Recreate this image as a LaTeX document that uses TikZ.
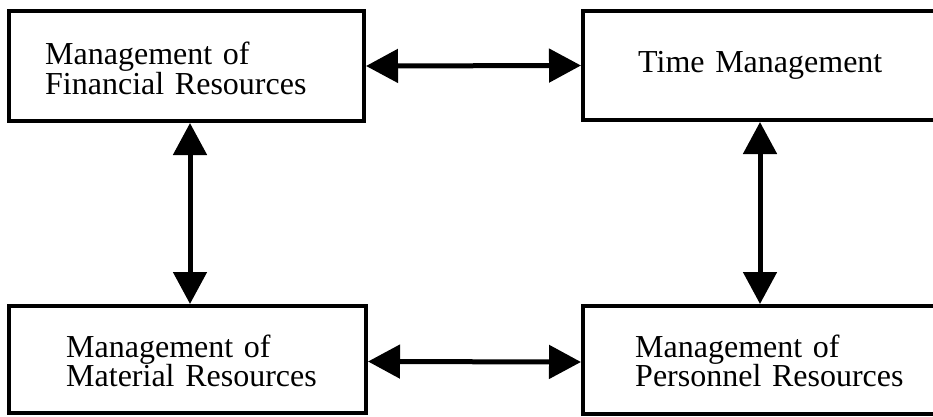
\documentclass[tikz,border=0pt]{standalone}
\usepackage{fontspec}
\setmainfont{Liberation Serif}
\usetikzlibrary{arrows.meta}
\begin{document}
\begin{tikzpicture}[x=1pt,y=-1pt,
  box/.style={draw=black, line width=4pt, fill=white, inner sep=0pt},
  label/.style={anchor=base west, inner sep=0pt, align=left, text width=320pt,
    font=\fontsize{32}{29.5}\selectfont},
  biarrow/.style={line width=5pt, {Triangle[length=32pt,width=33pt]}-{Triangle[length=32pt,width=33pt]}}]
  \useasboundingbox (0,0) rectangle (933,417);
  \clip (0,0) rectangle (933,417);

  % the four resource boxes
  \node[box, minimum width=355pt, minimum height=110pt] (fin)  at (186.5,66)  {};
  \node[box, minimum width=357pt, minimum height=109pt] (time) at (761.5,65.5) {};
  \node[box, minimum width=357pt, minimum height=107pt] (mat)  at (187.5,359.5) {};
  \node[box, minimum width=357pt, minimum height=108pt] (pers) at (761.5,360) {};

  % box texts
  \node[label] (finT)  at (45,65)   {Management of\\Financial Resources};
  \node[label] (timeT) at (638,73)  {Time Management};
  \node[label] (matT)  at (66,357)  {Management of\\Material Resources};
  \node[label] (persT) at (635,357) {Management of\\Personnel Resources};

  % two-way links between the boxes
  \draw[biarrow] (fin.east) -- (time.west);
  \draw[biarrow] ([yshift=-2pt]mat.east) -- ([yshift=-2pt]pers.west);
  \draw[biarrow] ([xshift=3.5pt]fin.south) -- ([xshift=2.5pt]mat.north);
  \draw[biarrow] ([xshift=-1.5pt]time.south) -- ([xshift=-1.5pt]pers.north);
\end{tikzpicture}
\end{document}
